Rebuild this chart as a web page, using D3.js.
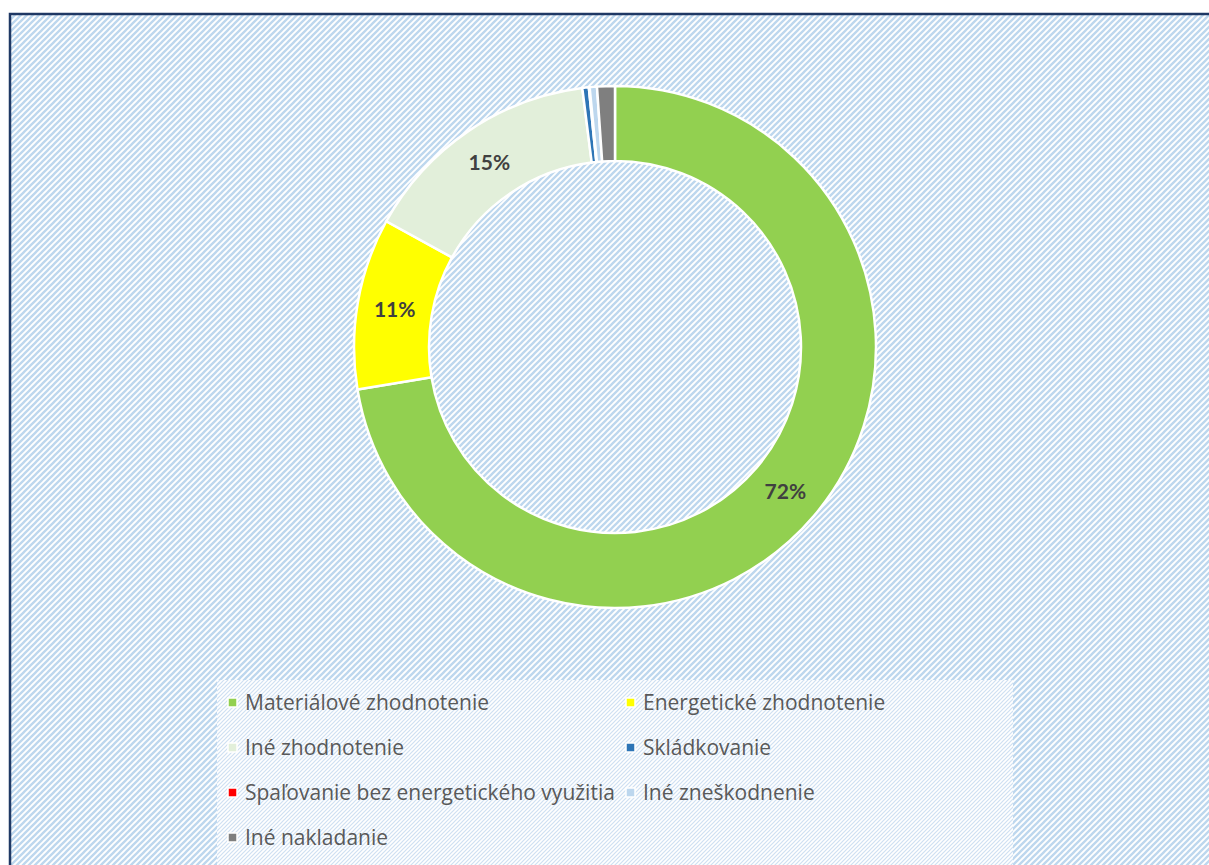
<!DOCTYPE html>
<html>
<head>
<meta charset="utf-8">
<script src="https://cdn.jsdelivr.net/npm/d3@7"></script>
<style>
  body { margin: 0; background: #fff; }
  svg { display: block; }
</style>
</head>
<body>
<div id="chart"></div>
<script>
// Data (shares in %)
const categories = [
  "Materiálové zhodnotenie",
  "Energetické zhodnotenie",
  "Iné zhodnotenie",
  "Skládkovanie",
  "Spaľovanie bez energetického využitia",
  "Iné zneškodnenie",
  "Iné nakladanie"
];
const shares = [72.4, 10.6, 15.0, 0.4, 0.05, 0.45, 1.1];
const sliceColors = ["#92d050", "#ffff00", "#e2efda", "#2e75b6", "#ff0000", "#bdd7ee", "#7f7f7f"];

const W = 1209, H = 865;

const svg = d3.select("#chart")
  .append("svg")
  .attr("width", W)
  .attr("height", H);

const defs = svg.append("defs");

// upward diagonal hatch for the chart area
const pat = defs.append("pattern")
  .attr("id", "hatch")
  .attr("patternUnits", "userSpaceOnUse")
  .attr("width", 6)
  .attr("height", 6);
pat.append("rect").attr("width", 6).attr("height", 6).attr("fill", "#fff");
pat.append("path")
  .attr("d", "M-2,2 L2,-2 M0,6 L6,0 M4,8 L8,4")
  .attr("stroke", "#bdd7ee")
  .attr("stroke-width", 2.3);

// finer hatch for the legend box
const patL = defs.append("pattern")
  .attr("id", "hatchLegend")
  .attr("patternUnits", "userSpaceOnUse")
  .attr("width", 4)
  .attr("height", 4);
patL.append("rect").attr("width", 4).attr("height", 4).attr("fill", "#fff");
patL.append("path")
  .attr("d", "M-1,1 L1,-1 M0,4 L4,0 M3,5 L5,3")
  .attr("stroke", "#cfe0f2")
  .attr("stroke-width", 1.2);

// chart area with border (runs off the right and bottom edges)
svg.append("rect")
  .attr("x", 10)
  .attr("y", 14)
  .attr("width", W + 20)
  .attr("height", H + 20)
  .attr("fill", "url(#hatch)")
  .attr("stroke", "#1f3864")
  .attr("stroke-width", 2.5);

// Donut
const cx = 615, cy = 347;
const outerR = 261, innerR = 186;

const g = svg.append("g")
  .attr("transform", `translate(${cx},${cy})`);

const pie = d3.pie().sort(null).value(d => d.value);
const arc = d3.arc().innerRadius(innerR).outerRadius(outerR);

const pieData = categories.map((c, i) => ({ name: c, value: shares[i], color: sliceColors[i] }));
const total = d3.sum(shares);

g.selectAll("path")
  .data(pie(pieData))
  .enter()
  .append("path")
  .attr("d", arc)
  .attr("fill", d => d.data.color)
  .attr("stroke", "#fff")
  .attr("stroke-width", 2.5)
  .attr("stroke-linejoin", "miter");

g.selectAll("text")
  .data(pie(pieData).filter(d => d.data.value / total >= 0.05))
  .enter()
  .append("text")
  .attr("transform", d => `translate(${arc.centroid(d)})`)
  .attr("text-anchor", "middle")
  .attr("dy", "0.36em")
  .style("font-family", "Lato, 'Open Sans', sans-serif")
  .style("font-weight", "bold")
  .style("font-size", "21px")
  .attr("fill", "#404040")
  .text(d => Math.round(d.data.value / total * 100) + "%");

// Legend
const legendBox = { x: 217, y: 680, w: 796, h: 200 };
svg.append("rect")
  .attr("x", legendBox.x)
  .attr("y", legendBox.y)
  .attr("width", legendBox.w)
  .attr("height", legendBox.h)
  .attr("fill", "url(#hatchLegend)");

const colX = [228, 626];
const rowY0 = 703, rowGap = 45;

const legend = svg.append("g");
const item = legend.selectAll("g")
  .data(pieData)
  .enter()
  .append("g")
  .attr("transform", (d, i) => `translate(${colX[i % 2]},${rowY0 + Math.floor(i / 2) * rowGap})`);

item.append("rect")
  .attr("x", 0)
  .attr("y", -5)
  .attr("width", 9)
  .attr("height", 9)
  .attr("fill", d => d.color)
  .attr("stroke", "#fff")
  .attr("stroke-width", 1.5);

item.append("text")
  .attr("x", 17)
  .attr("y", 0)
  .attr("dy", "0.35em")
  .style("font-family", "'Open Sans', sans-serif")
  .style("font-size", "21px")
  .attr("fill", "#595959")
  .text(d => d.name);
</script>
</body>
</html>
